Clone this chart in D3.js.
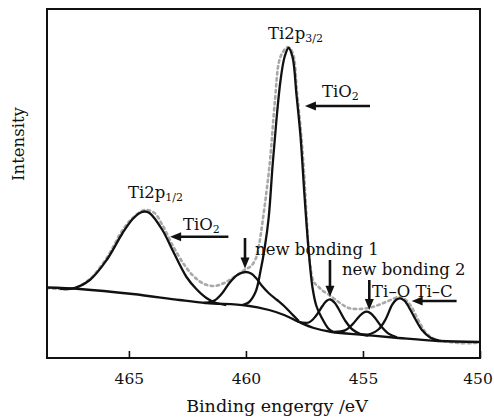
<!DOCTYPE html>
<html>
<head>
<meta charset="utf-8">
<script src="https://cdn.jsdelivr.net/npm/d3@7"></script>
<style>
body { margin: 0; background: #fff; }
svg text { font-family: "DejaVu Serif", serif; fill: #111; }
</style>
</head>
<body>
<div id="chart"></div>
<script>
// binding energy (eV) vs intensity (a.u.)
const xTicks = [465, 460, 455, 450];

const background = [[468.50,70.5],[467.10,69],[464.84,64],[462.84,58],[461.69,55],[459.99,52.5],[459.01,48],[458.37,43],[457.74,36],[457.10,30],[456.33,26],[454.93,23],[453.48,20],[451.78,17],[450.0,16]];

const ti2p12 = [[467.95,69.5],[467.40,69.5],[466.67,78],[465.95,98],[465.27,125],[464.84,139],[464.54,145],[464.33,146.5],[464.12,145],[463.57,128],[463.14,108],[462.54,81],[462.12,69],[461.69,60],[461.27,55],[460.84,53]];

const bonding1 = [[461.78,55],[461.35,57.5],[461.01,65],[460.71,75],[460.37,83],[460.03,86],[459.78,84.5],[459.57,80],[459.31,72],[459.01,64.5],[458.67,58],[458.37,52],[458.08,45],[457.74,37]];

const ti2p32 = [[460.16,53],[459.89,55.5],[459.59,66],[459.37,88],[459.20,110],[459.03,140],[458.86,193],[458.69,240],[458.52,278],[458.35,301],[458.18,310],[458.01,301],[457.84,263],[457.67,222],[457.50,163],[457.33,110],[457.16,71],[456.99,52],[456.78,41],[456.48,29.5],[456.25,26]];

const bonding2 = [[457.79,36.5],[457.32,35.5],[457.03,41.5],[456.73,52],[456.56,57],[456.39,58.5],[456.22,55.5],[456.05,49.5],[455.75,37],[455.45,28.5],[455.11,24],[454.77,22.5]];

const tiO = [[456.23,26],[455.77,27.6],[455.47,33.1],[455.17,41.3],[455.00,45],[454.83,46.3],[454.66,44.5],[454.49,40.3],[454.19,30.8],[453.89,24.1],[453.55,20.7]];

const tiC = [[455.07,23.5],[454.69,24],[454.34,28.5],[454.05,38],[453.75,53.4],[453.58,58.2],[453.41,59.7],[453.24,57.6],[453.07,52.2],[452.77,39.2],[452.47,27.7],[452.13,20.4],[451.75,17.4]];

const measured = [[468.50,70],[467.95,69],[467.31,70],[466.67,79],[465.95,100],[465.27,128],[464.84,140],[464.33,148],[463.91,145],[463.57,133],[463.14,113],[462.63,93],[462.20,81],[461.78,74],[461.35,72],[460.93,75],[460.51,81],[460.07,88],[459.78,92],[459.57,100],[459.44,113],[459.31,133],[459.14,163],[458.97,198],[458.76,258],[458.59,296],[458.42,306],[458.21,311],[458.00,305],[457.82,266],[457.65,226],[457.52,186],[457.40,138],[457.27,96],[457.10,76],[456.89,71],[456.76,68],[456.38,62],[456.04,56],[455.61,50],[455.19,49],[454.76,50],[454.34,53],[453.92,57],[453.49,61],[453.28,60],[452.98,53],[452.64,38],[452.30,25],[451.96,19],[451.57,17],[450.93,15],[450.16,15]];

// annotations: [eV, intensity, text, subscript]
const labels = [
    [459.06, 319, "Ti2p", "3/2"],
    [456.75, 261, "TiO", "2"],
    [465.04, 160, "Ti2p", "1/2"],
    [462.69, 128, "TiO", "2"],
    [459.61, 103, "new bonding 1", ""],
    [455.90, 83, "new bonding 2", ""],
    [454.61, 61, "Ti\u2013O Ti\u2013C", ""]
];
// arrows: [from eV, from I, to eV, to I]
const arrows = [
    [454.70, 252, 457.48, 252],
    [460.75, 121.3, 463.24, 121.3],
    [460.04, 120, 460.04, 89.5],
    [456.41, 98, 456.41, 61.3],
    [454.73, 78, 454.73, 48],
    [451.00, 57, 452.92, 57]
];

const w = 494;
const h = 419;
const margin = {top: 9, right: 14, bottom: 61, left: 47};

const svg = d3.select("#chart")
    .append("svg")
    .attr("width", w)
    .attr("height", h);

const x = d3.scaleLinear()
    .domain([468.5, 450])
    .range([margin.left, w - margin.right]);
const y = d3.scaleLinear()
    .domain([0, 349])
    .range([h - margin.bottom, margin.top]);

svg.append("clipPath").attr("id", "plot")
    .append("rect")
    .attr("x", margin.left).attr("y", margin.top)
    .attr("width", w - margin.left - margin.right)
    .attr("height", h - margin.top - margin.bottom);

const line = d3.line()
    .x(d => x(d[0]))
    .y(d => y(d[1]))
    .curve(d3.curveCatmullRom.alpha(0.5));

const plot = svg.append("g").attr("clip-path", "url(#plot)");

// measured spectrum, grey dotted
plot.append("path")
    .attr("d", line(measured))
    .style("fill", "none").style("stroke", "#a9a9a9")
    .style("stroke-width", 2.6).style("stroke-dasharray", "2.5,3.5")
    .style("stroke-linecap", "round");

// background and fitted components
[background, ti2p12, bonding1, ti2p32, bonding2, tiO, tiC].forEach(s => {
    plot.append("path")
        .attr("d", line(s))
        .style("fill", "none").style("stroke", "#111")
        .style("stroke-width", 2.3).style("stroke-linejoin", "round");
});

// frame
svg.append("rect")
    .attr("x", margin.left).attr("y", margin.top)
    .attr("width", w - margin.left - margin.right)
    .attr("height", h - margin.top - margin.bottom)
    .style("fill", "none").style("stroke", "#111").style("stroke-width", 2);

const xAxis = svg.append("g")
    .attr("transform", `translate(0,${h - margin.bottom})`)
    .call(d3.axisBottom(x).tickValues(xTicks).tickSize(-7).tickSizeOuter(0)
        .tickPadding(15).tickFormat(d3.format("d")));
xAxis.select(".domain").remove();
xAxis.selectAll(".tick line").style("stroke", "#111").style("stroke-width", 1.6);
xAxis.selectAll(".tick text")
    .style("font-family", "'DejaVu Serif', serif")
    .style("font-size", "15.5px").style("fill", "#111");
// last label sits against the right edge
xAxis.selectAll(".tick text").filter(d => d === 450).attr("dx", -2.5);

svg.append("text")
    .attr("x", 277).attr("y", 412)
    .attr("text-anchor", "middle")
    .style("font-size", "17.5px")
    .text("Binding engergy /eV");

svg.append("text")
    .attr("transform", "translate(24,144) rotate(-90)")
    .attr("text-anchor", "middle")
    .style("font-size", "16.5px")
    .text("Intensity");

// labels
labels.forEach(l => {
    const t = svg.append("text")
        .attr("x", x(l[0])).attr("y", y(l[1]))
        .style("font-size", "16.5px");
    t.append("tspan").text(l[2]);
    if (l[3]) t.append("tspan").attr("dy", 3).style("font-size", "11px").text(l[3]);
});

// arrows
arrows.forEach(a => {
    const x1 = x(a[0]), y1 = y(a[1]), x2 = x(a[2]), y2 = y(a[3]);
    const len = Math.hypot(x2 - x1, y2 - y1);
    const ux = (x2 - x1) / len, uy = (y2 - y1) / len;
    const head = 11, half = 4.5;
    const bx = x2 - ux * head, by = y2 - uy * head;
    svg.append("line")
        .attr("x1", x1).attr("y1", y1)
        .attr("x2", bx + ux).attr("y2", by + uy)
        .style("stroke", "#111").style("stroke-width", 2.6);
    svg.append("path")
        .attr("d", `M${x2},${y2}L${bx - uy * half},${by + ux * half}L${bx + uy * half},${by - ux * half}Z`)
        .style("fill", "#111");
});
</script>
</body>
</html>
